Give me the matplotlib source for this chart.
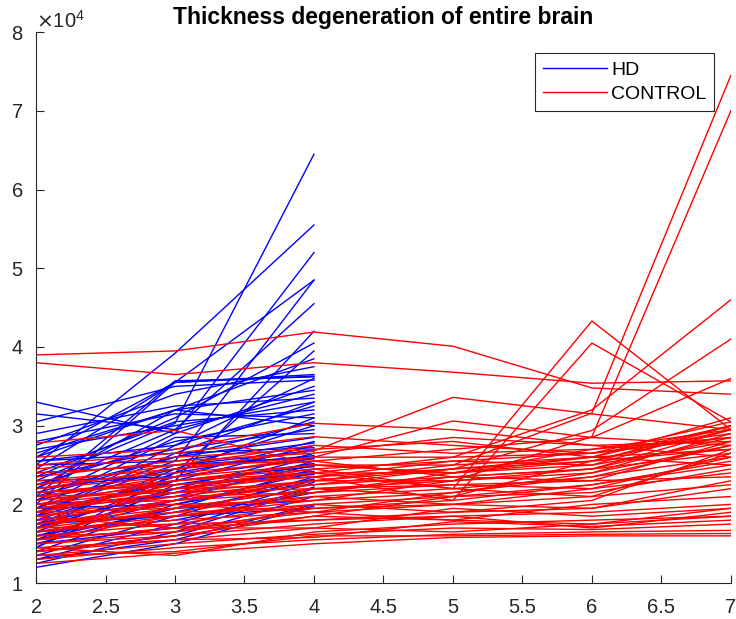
import matplotlib.pyplot as plt
import numpy as np
from matplotlib.ticker import ScalarFormatter, FuncFormatter

plt.rcParams['font.family'] = ['Liberation Sans', 'DejaVu Sans']

# visit index for each group
hd_visits = [2, 3, 4]
control_visits = [2, 3, 4, 5, 6, 7]

# thickness values, units of 1e4
hd_thickness = [
    [2.30, 3.03, 6.45], [2.50, 3.92, 5.55], [2.05, 2.90, 5.20], [2.45, 3.55, 4.85],
    [1.95, 2.55, 4.85], [2.20, 2.95, 4.55], [1.90, 2.30, 4.20], [2.35, 3.10, 4.05],
    [1.75, 2.40, 3.95], [2.65, 3.20, 3.85], [2.00, 3.55, 3.65], [2.10, 3.57, 3.62],
    [1.85, 2.75, 3.60], [3.30, 2.90, 3.50], [3.15, 2.95, 3.40], [2.90, 3.25, 3.35],
    [2.70, 3.00, 3.30], [2.55, 2.75, 3.25], [2.40, 3.05, 3.20], [2.25, 2.80, 3.15],
    [2.80, 3.15, 3.10], [2.15, 2.60, 3.05], [1.70, 2.45, 3.00], [2.60, 3.20, 3.00],
    [2.35, 2.70, 2.95], [1.95, 2.85, 2.90], [2.10, 2.60, 2.85], [1.80, 2.35, 2.80],
    [2.50, 2.55, 2.78], [1.65, 2.30, 2.75], [2.20, 2.40, 2.70], [1.90, 2.50, 2.68],
    [1.55, 2.20, 2.65], [2.05, 2.45, 2.62], [1.75, 2.15, 2.60], [2.30, 2.35, 2.58],
    [1.60, 2.05, 2.55], [1.45, 2.25, 2.52], [2.00, 2.10, 2.50], [1.85, 2.30, 2.48],
    [1.50, 1.95, 2.45], [1.70, 2.20, 2.42], [1.40, 2.00, 2.40], [2.15, 2.25, 2.38],
    [1.35, 1.85, 2.35], [1.95, 2.00, 2.32], [1.60, 1.90, 2.30], [1.30, 1.75, 2.28],
    [1.80, 2.05, 2.25], [1.50, 1.70, 2.22], [1.25, 1.65, 2.20], [1.65, 1.80, 2.15],
    [1.40, 1.60, 2.10], [1.55, 1.95, 2.05], [1.30, 1.55, 2.00], [1.75, 1.85, 1.95],
    [2.55, 2.65, 2.72], [2.40, 2.50, 2.60], [1.45, 2.40, 3.10], [1.20, 1.50, 1.98],
    [2.75, 3.40, 3.75], [3.05, 3.50, 3.58], [2.60, 3.55, 3.63], [2.20, 3.20, 3.45],
    [1.85, 2.65, 3.30],
]

control_thickness = [
    [3.90, 3.95, 4.19, 4.01, 3.48, 3.40], [3.80, 3.65, 3.80, 3.68, 3.54, 3.57],
    [2.78, 2.94, 2.50, 2.40, 2.55, 2.70], [2.20, 2.45, 2.68, 3.36, 3.15, 2.95],
    [2.10, 2.35, 2.60, 3.06, 2.85, 2.75], [2.00, 2.30, 2.45, 2.20, 4.33, 2.95],
    [1.95, 2.20, 2.35, 2.05, 4.05, 3.05], [1.85, 2.10, 2.30, 2.50, 3.16, 7.45],
    [1.75, 1.95, 2.20, 2.30, 2.86, 7.00], [2.05, 2.25, 2.40, 2.60, 3.20, 4.60],
    [1.90, 2.15, 2.30, 2.45, 2.94, 4.10], [2.25, 2.40, 2.55, 2.70, 2.85, 3.60],
    [2.15, 2.30, 2.50, 2.40, 2.60, 3.00], [2.60, 2.70, 3.03, 2.95, 2.75, 2.60],
    [2.50, 2.65, 2.86, 2.75, 2.65, 2.85], [2.40, 2.50, 2.75, 2.65, 2.70, 2.95],
    [1.25, 1.38, 1.50, 1.58, 1.60, 1.60], [1.30, 1.45, 1.55, 1.62, 1.65, 1.67],
    [1.35, 1.50, 1.62, 1.70, 1.68, 1.75], [1.40, 1.55, 1.58, 1.78, 1.72, 1.80],
    [1.45, 1.35, 1.65, 1.75, 1.80, 1.85], [1.50, 1.60, 1.75, 1.85, 1.70, 1.90],
    [1.55, 1.70, 1.70, 1.95, 1.85, 1.95], [1.60, 1.65, 1.85, 1.80, 2.00, 2.10],
    [1.65, 1.80, 1.90, 2.00, 1.95, 2.30], [1.70, 1.75, 2.00, 2.10, 2.15, 2.45],
    [1.75, 1.90, 1.95, 2.05, 2.25, 2.55], [1.80, 1.85, 2.10, 2.20, 2.10, 2.65],
    [1.85, 2.00, 2.05, 2.15, 2.35, 2.75], [1.90, 1.95, 2.20, 2.25, 2.30, 2.80],
    [1.95, 2.10, 2.15, 2.35, 2.45, 2.85], [2.00, 2.05, 2.30, 2.30, 2.40, 2.90],
    [2.05, 2.20, 2.25, 2.45, 2.55, 2.95], [2.10, 2.15, 2.40, 2.40, 2.50, 3.00],
    [2.15, 2.25, 2.35, 2.55, 2.65, 3.05], [2.20, 2.35, 2.50, 2.50, 2.60, 3.10],
    [1.60, 1.75, 1.80, 1.90, 2.05, 2.70], [1.50, 1.65, 1.95, 2.00, 2.20, 2.60],
    [1.40, 1.60, 1.85, 2.10, 2.25, 2.50], [1.70, 1.90, 2.15, 2.25, 2.20, 2.40],
    [1.80, 2.05, 2.25, 2.35, 2.30, 2.35], [1.55, 1.85, 2.00, 1.90, 1.95, 2.20],
    [1.65, 1.95, 2.10, 2.00, 2.10, 2.25], [1.75, 2.00, 1.90, 2.15, 2.40, 2.75],
    [2.00, 2.20, 2.45, 2.55, 2.50, 2.80], [2.30, 2.45, 2.60, 2.60, 2.65, 2.90],
    [1.85, 1.70, 1.80, 1.85, 1.90, 2.00], [1.90, 2.25, 2.35, 2.45, 2.60, 2.70],
    [1.45, 1.55, 1.70, 1.65, 1.75, 1.85], [2.10, 2.30, 2.40, 2.20, 2.35, 2.60],
    [2.45, 2.60, 2.70, 2.80, 2.60, 2.50], [2.35, 2.55, 2.65, 2.85, 2.75, 2.80],
    [1.95, 2.15, 2.20, 2.10, 2.55, 3.00], [1.65, 1.85, 2.05, 2.30, 2.45, 2.95],
    [1.55, 1.70, 1.90, 1.80, 1.75, 1.95], [2.25, 2.50, 2.55, 2.35, 2.45, 2.65],
    [1.35, 1.40, 1.60, 1.60, 1.62, 1.63], [1.70, 2.05, 2.15, 2.40, 2.70, 2.85],
]

axis_grey = '#262626'

fig = plt.figure(figsize=(7.36, 6.19), dpi=100)
ax = fig.add_axes([0.049, 0.058, 0.944, 0.890])

for i, row in enumerate(hd_thickness):
    ax.plot(hd_visits, np.array(row) * 1e4, color='blue', lw=1.0,
            label='HD' if i == 0 else None)
for i, row in enumerate(control_thickness):
    ax.plot(control_visits, np.array(row) * 1e4, color='red', lw=1.0,
            label='CONTROL' if i == 0 else None)

ax.set_xlim(2, 7)
ax.set_ylim(1e4, 8e4)
ax.set_xticks(np.arange(2, 7.01, 0.5))
ax.set_yticks(np.arange(1, 9) * 1e4)
ax.xaxis.set_major_formatter(FuncFormatter(lambda v, p: '%g' % v))
fmt = ScalarFormatter(useMathText=True)
fmt.set_powerlimits((0, 0))
ax.yaxis.set_major_formatter(fmt)
ax.yaxis.get_offset_text().set_fontsize(14.5)
ax.yaxis.get_offset_text().set_color(axis_grey)

for side in ['top', 'right']:
    ax.spines[side].set_visible(False)
for side in ['left', 'bottom']:
    ax.spines[side].set_color(axis_grey)
    ax.spines[side].set_linewidth(0.8)
ax.tick_params(direction='in', length=6, width=0.8, colors=axis_grey,
               labelsize=14.5)
ax.tick_params(axis='x', pad=11)
ax.tick_params(axis='y', pad=9)

ax.text(0.5, 1.027, 'Thickness degeneration of entire brain', fontsize=16.5,
        fontweight='bold', ha='center', va='center', transform=ax.transAxes)

leg = ax.legend(loc='upper right', bbox_to_anchor=(0.976, 0.962), fontsize=14,
                fancybox=False, edgecolor=axis_grey, framealpha=1,
                handlelength=3.3, handletextpad=0.2, borderaxespad=0,
                borderpad=0.4, labelspacing=0.35)
leg.get_frame().set_linewidth(0.8)

fig.savefig('out.png', dpi=100)
